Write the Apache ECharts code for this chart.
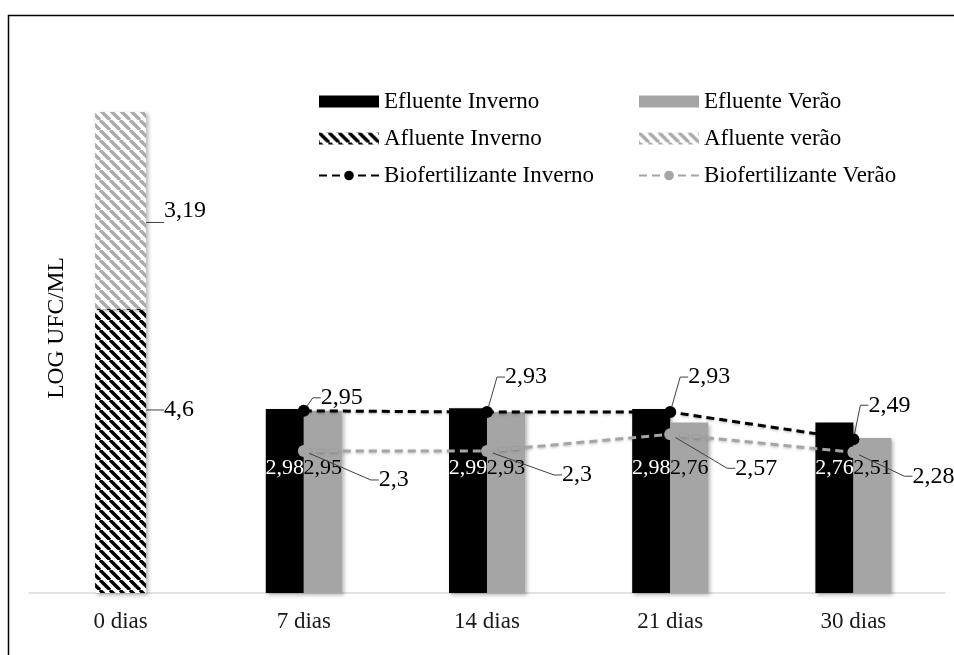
<!DOCTYPE html>
<html>
<head>
<meta charset="utf-8">
<script src="https://cdn.jsdelivr.net/npm/echarts@6/dist/echarts.min.js"></script>
<style>
  html, body { margin: 0; padding: 0; background: #fff; }
  #chart { width: 954px; height: 655px; }
</style>
</head>
<body>
<div id="chart"></div>
<script>
// Sampling days
const categories = ['0 dias', '7 dias', '14 dias', '21 dias', '30 dias'];

// LOG UFC/ML per sample
const afluenteInverno = [4.6, '-', '-', '-', '-'];
const afluenteVerao = [3.19, '-', '-', '-', '-'];
const efluenteInverno = ['-', 2.98, 2.99, 2.98, 2.76];
const efluenteVerao = ['-', 2.95, 2.93, 2.76, 2.51];
const bioInverno = ['-', 2.95, 2.93, 2.93, 2.49];
const bioVerao = ['-', 2.3, 2.3, 2.57, 2.28];

// Callout offsets (dx, dy) for the line labels
const bioInvernoShift = [null, [11, -13], [12, -35], [12, -35], [9, -34]];
const bioVeraoShift = [null, [69, 29], [69, 24], [59, 34], [53, 24]];

const FONT = '"Liberation Serif", "Times New Roman", serif';
const FS_TEXT = 23;     // legend, axis and title
const FS_BAR = 22;      // labels inside the efluente bars
const FS_CALLOUT = 24;  // callout labels

function hatch(color) {
  const s = 10;
  const c = document.createElement('canvas');
  c.width = s; c.height = s;
  const ctx = c.getContext('2d');
  ctx.fillStyle = '#ffffff';
  ctx.fillRect(0, 0, s, s);
  ctx.strokeStyle = color;
  ctx.lineWidth = 3.4;
  ctx.beginPath();
  [-s, 0, s].forEach(function (k) {
    ctx.moveTo(k, 0);
    ctx.lineTo(k + s, s);
  });
  ctx.stroke();
  return { image: c, repeat: 'repeat' };
}

const fmt = function (p) { return String(p.value).replace('.', ','); };

const barShadow = {
  shadowBlur: 4,
  shadowColor: 'rgba(0,0,0,0.3)',
  shadowOffsetX: 2,
  shadowOffsetY: 2
};

const calloutLine = {
  show: true,
  length2: 8,
  lineStyle: { color: '#404040', width: 1 }
};

const calloutLabel = {
  show: true, position: 'right', distance: 0,
  formatter: fmt, fontFamily: FONT, fontSize: FS_CALLOUT, color: '#000'
};

const legendBase = {
  top: 85, orient: 'vertical', itemGap: 14,
  itemWidth: 60, itemHeight: 12, selectedMode: false,
  textStyle: { fontFamily: FONT, fontSize: FS_TEXT, color: '#000' }
};

const chart = echarts.init(document.getElementById('chart'), null, { renderer: 'canvas' });

chart.setOption({
  animation: false,
  backgroundColor: '#ffffff',
  textStyle: { fontFamily: FONT },
  grid: { left: 29, right: 9, top: 99, bottom: 62 },
  legend: [
    Object.assign({}, legendBase, {
      left: 313,
      data: [
        { name: 'Efluente Inverno', icon: 'rect' },
        { name: 'Afluente Inverno', icon: 'rect' },
        'Biofertilizante Inverno'
      ]
    }),
    Object.assign({}, legendBase, {
      left: 633,
      data: [
        { name: 'Efluente Verão', icon: 'rect' },
        { name: 'Afluente verão', icon: 'rect' },
        'Biofertilizante Verão'
      ]
    })
  ],
  xAxis: [
    {
      type: 'category',
      data: categories,
      axisLine: { lineStyle: { color: '#d9d9d9', width: 1.5 } },
      axisTick: { show: false },
      axisLabel: { fontFamily: FONT, fontSize: FS_TEXT, color: '#1a1a1a', margin: 17 }
    },
    {
      type: 'category',
      data: categories,
      show: false
    }
  ],
  yAxis: {
    type: 'value',
    min: 0,
    max: 8,
    show: false,
    splitLine: { show: false }
  },
  graphic: [
    {
      type: 'polyline',
      shape: { points: [[8.5, 700], [8.5, 15.5], [960, 15.5]] },
      style: { fill: null, stroke: '#000', lineWidth: 1.5 },
      silent: true
    },
    {
      type: 'text',
      x: 57, y: 328,
      rotation: Math.PI / 2,
      style: {
        text: 'LOG UFC/ML',
        fontFamily: FONT, fontSize: 23.5, fill: '#000',
        align: 'center', verticalAlign: 'middle'
      }
    }
  ],
  series: [
    {
      name: 'Afluente Inverno',
      type: 'bar',
      xAxisIndex: 0,
      stack: 'afluente',
      barWidth: 51,
      data: afluenteInverno,
      itemStyle: Object.assign({ color: hatch('#000000') }, barShadow),
      label: Object.assign({}, calloutLabel, { distance: 18 }),
      labelLayout: { dy: -41 },
      labelLine: calloutLine
    },
    {
      name: 'Afluente verão',
      type: 'bar',
      xAxisIndex: 0,
      stack: 'afluente',
      barWidth: 51,
      data: afluenteVerao,
      itemStyle: Object.assign({ color: hatch('#ababab') }, barShadow),
      label: Object.assign({}, calloutLabel, { distance: 18 }),
      labelLine: calloutLine
    },
    {
      name: 'Efluente Inverno',
      type: 'bar',
      xAxisIndex: 1,
      barWidth: 38,
      barGap: '0%',
      data: efluenteInverno,
      itemStyle: Object.assign({ color: '#000000' }, barShadow),
      label: {
        show: true, position: 'insideBottom', distance: 114,
        formatter: fmt, fontFamily: FONT, fontSize: FS_BAR, color: '#ffffff'
      }
    },
    {
      name: 'Efluente Verão',
      type: 'bar',
      xAxisIndex: 1,
      barWidth: 38,
      barGap: '0%',
      data: efluenteVerao,
      itemStyle: Object.assign({ color: '#a5a5a5' }, barShadow),
      label: {
        show: true, position: 'insideBottom', distance: 114,
        formatter: fmt, fontFamily: FONT, fontSize: FS_BAR, color: '#000'
      }
    },
    {
      name: 'Biofertilizante Inverno',
      type: 'line',
      xAxisIndex: 0,
      data: bioInverno,
      symbol: 'circle',
      symbolSize: 12,
      z: 5,
      itemStyle: { color: '#000000' },
      lineStyle: {
        color: '#000000', width: 3, type: [8, 5],
        shadowBlur: 3, shadowColor: 'rgba(0,0,0,0.3)', shadowOffsetY: 1
      },
      label: calloutLabel,
      labelLayout: function (p) {
        const o = bioInvernoShift[p.dataIndex];
        return o ? { dx: o[0], dy: o[1] } : {};
      },
      labelLine: calloutLine
    },
    {
      name: 'Biofertilizante Verão',
      type: 'line',
      xAxisIndex: 0,
      data: bioVerao,
      symbol: 'circle',
      symbolSize: 12,
      z: 5,
      itemStyle: { color: '#a5a5a5' },
      lineStyle: {
        color: '#a5a5a5', width: 3, type: [8, 5],
        shadowBlur: 3, shadowColor: 'rgba(0,0,0,0.25)', shadowOffsetY: 1
      },
      label: calloutLabel,
      labelLayout: function (p) {
        const o = bioVeraoShift[p.dataIndex];
        return o ? { dx: o[0], dy: o[1] } : {};
      },
      labelLine: calloutLine
    }
  ]
});
</script>
</body>
</html>
